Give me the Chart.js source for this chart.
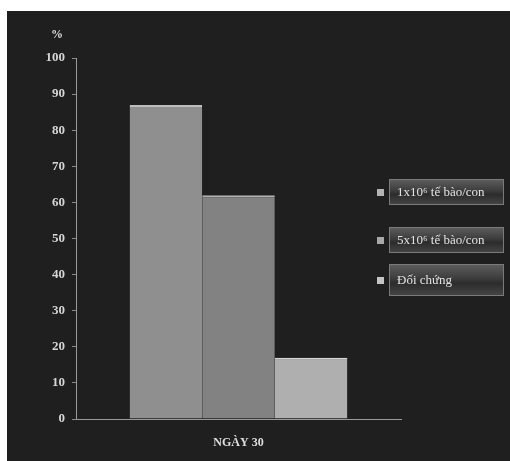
<!DOCTYPE html>
<html lang="vi">
<head>
    <meta charset="UTF-8">
    <title>NGÀY 30</title>
    <script src="https://cdn.jsdelivr.net/npm/chart.js"></script>
    <style>
        body { margin: 0; background: #fff; font-family: 'Liberation Serif', serif; }
        #wrap { position: relative; width: 510px; height: 461px; background: #fff; overflow: hidden; }
        #panel { position: absolute; left: 7px; top: 11px; right: 0; bottom: 0; background: #1f1f1f; }
        #chartBox { position: absolute; left: 0; top: 0; width: 510px; height: 461px; }
        .leg-item { position: absolute; left: 377px; width: 133px; }
        .leg-sq { position: absolute; left: 0; width: 7px; height: 7px; }
        .leg-box {
            position: absolute; left: 12px; width: 115px;
            border: 1px solid #7a7a7a;
            background: linear-gradient(#5c5c5c, #3c3c3c 45%, #2c2c2c 60%, #444);
            color: #e2e2e2; font-size: 13px; padding-left: 7px; box-sizing: border-box;
        }
    </style>
</head>
<body>
<div id="wrap">
    <div id="panel"></div>
    <div id="chartBox"><canvas id="chart"></canvas></div>
    <div id="legend"></div>
</div>
<script>
    const categories = ['NGÀY 30'];
    const seriesLabels = ['1x10⁶ tế bào/con', '5x10⁶ tế bào/con', 'Đối chứng'];
    const dose1 = [87];
    const dose5 = [62];
    const control = [17];
    const yMax = 100;
    const yStep = 10;

    const barColors = ['#8f8f8f', '#828282', '#afafaf'];
    const legendSquare = ['#b4b4b4', '#a8a8a8', '#c4c4c4'];

    // "%" unit label above the y axis
    const unitLabel = {
        id: 'unitLabel',
        afterDraw(chart) {
            const ctx = chart.ctx;
            ctx.save();
            ctx.fillStyle = '#dcdcdc';
            ctx.font = 'bold 12px "Liberation Serif"';
            ctx.textAlign = 'center';
            ctx.textBaseline = 'middle';
            ctx.fillText('%', 57, 35);
            ctx.restore();
        }
    };

    const chart = new Chart(document.getElementById('chart'), {
        type: 'bar',
        data: {
            labels: categories,
            datasets: [
                { label: seriesLabels[0], data: dose1, backgroundColor: barColors[0], borderColor: '#bdbdbd', borderWidth: { top: 2 }, borderSkipped: 'bottom' },
                { label: seriesLabels[1], data: dose5, backgroundColor: barColors[1], borderColor: '#b0b0b0', borderWidth: { top: 2 }, borderSkipped: 'bottom' },
                { label: seriesLabels[2], data: control, backgroundColor: barColors[2], borderColor: '#d4d4d4', borderWidth: { top: 2 }, borderSkipped: 'bottom' }
            ]
        },
        options: {
            responsive: true,
            maintainAspectRatio: false,
            animation: false,
            layout: { padding: { left: 0, right: 109, top: 58, bottom: 0 } },
            datasets: { bar: { categoryPercentage: 0.67, barPercentage: 1.0 } },
            plugins: {
                legend: { display: false },
                tooltip: { enabled: false }
            },
            scales: {
                x: {
                    grid: { display: false, tickLength: 0 },
                    border: { display: true, color: '#9a9a9a', width: 1 },
                    ticks: { color: '#dedede', font: { family: 'Liberation Serif', size: 12, weight: 'bold' }, padding: 17 },
                    afterFit(scale) { scale.height = 42; }
                },
                y: {
                    min: 0, max: yMax,
                    grid: { drawOnChartArea: false, tickLength: 4, color: '#8a8a8a' },
                    border: { display: true, color: '#9a9a9a', width: 1 },
                    ticks: { stepSize: yStep, color: '#d6d6d6', font: { family: 'Liberation Serif', size: 13, weight: 'bold' }, padding: 7 },
                    afterFit(scale) { scale.width = 76; }
                }
            }
        },
        plugins: [unitLabel]
    });

    // legend boxes on the right, built from the series labels
    const legendTops = [179, 227, 264];
    const legendHeights = [26, 26, 32];
    const legend = document.getElementById('legend');
    seriesLabels.forEach((label, i) => {
        const item = document.createElement('div');
        item.className = 'leg-item';
        item.style.top = legendTops[i] + 'px';
        const h = legendHeights[i];
        item.innerHTML =
            `<div class="leg-sq" style="top:${Math.round(h / 2) - 3}px;background:${legendSquare[i]}"></div>` +
            `<div class="leg-box" style="top:0;height:${h}px;line-height:${h - 2}px">${label}</div>`;
        legend.appendChild(item);
    });
</script>
</body>
</html>
